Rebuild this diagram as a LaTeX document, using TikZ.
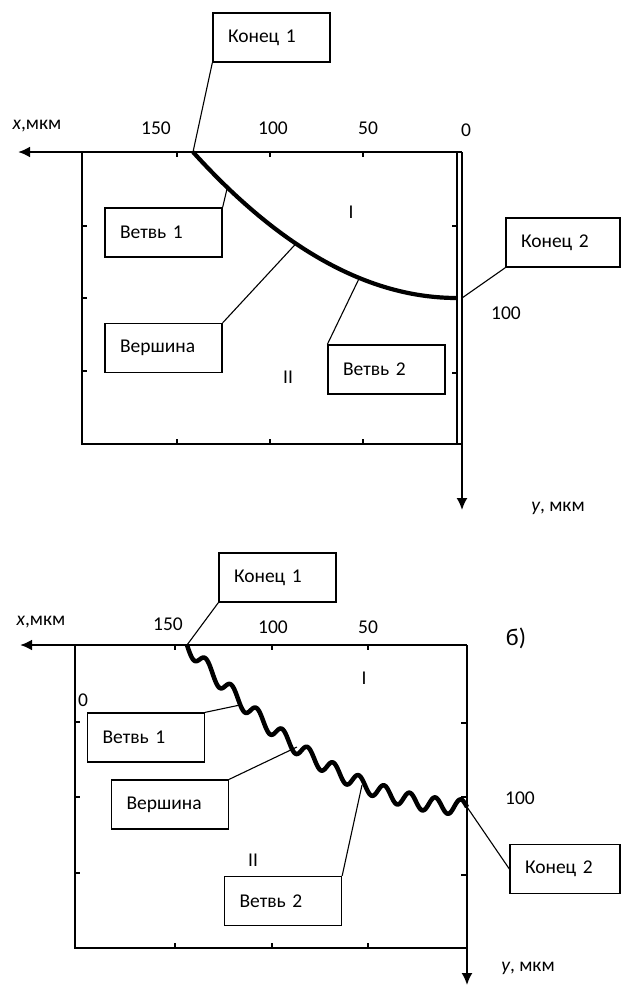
\documentclass[tikz,border=0pt]{standalone}
\usepackage{fontspec}
\setmainfont{Carlito}
\usetikzlibrary{arrows.meta}

\begin{document}
\begin{tikzpicture}[
    x=1pt, y=-1pt,
    font=\fontsize{19.5}{22}\selectfont,
    box/.style={rectangle, draw=black, line width=1.3pt, text width=87pt, align=left, inner xsep=15pt, inner ysep=0pt, minimum height=49pt},
    lead/.style={line width=1.1pt, black},
    frame/.style={line width=1.4pt, black},
    axis/.style={line width=2.8pt, black, -{Latex[length=12pt, width=11pt]}},
    yaxis/.style={line width=1.8pt, black, -{Latex[length=12pt, width=11pt]}},
    tick/.style={line width=1.2pt, black},
    curve/.style={line width=4.2pt, black},
]

    \useasboundingbox (0,0) rectangle (621,988);

    % --- Diagram a (top): smooth front ---
    \coordinate (O1) at (462,152);
    \coordinate (X1) at (18,152);
    \coordinate (Y1) at (462,510);
    \draw[axis]  (O1) -- (X1);
    \draw[yaxis] (O1) -- (Y1);

    % frame and ticks
    \draw[frame] (82,152) -- (82,444) -- (462,444);
    \draw[frame] (457,152) -- (457,444);
    \draw[tick] (177,152) -- ++(0,5) (270,152) -- ++(0,5) (363,152) -- ++(0,5);
    \draw[tick] (177,444) -- ++(0,-5) (270,444) -- ++(0,-5) (363,444) -- ++(0,-5);
    \draw[tick] (82,226) -- ++(5,0) (82,298) -- ++(5,0) (82,371) -- ++(5,0);
    \draw[tick] (457,226) -- ++(-5,0) (457,298) -- ++(-5,0) (457,373) -- ++(-5,0);

    % axis labels
    \node (xla) at (37,126)  {\textit{x},мкм};
    \node (a150) at (156,128) {150};
    \node (a100) at (273,128) {100};
    \node (a50)  at (368,128) {50};
    \node (a0)   at (466,130) {0};
    \node (ay100) at (506,313) {100};
    \node (yla) at (558,508) {\textit{y}, мкм};
    \node (zoneIa)  at (351,212) {I};
    \node (zoneIIa) at (288,377) {II};

    % front line (parabola, vertex at the y axis)
    \coordinate (k1) at (193,152);
    \coordinate (k2) at (457,298);
    \draw[curve] (k1) .. controls (281,249.3) and (369,298) .. (k2)
        coordinate[pos=0.13] (p1)
        coordinate[pos=0.39] (p2)
        coordinate[pos=0.63] (p3);

    % callouts
    \node[box] (kon1a) at (271.5,37.5) {Конец 1};
    \node[box, text width=84pt] (kon2a) at (563,242.5) {Конец 2};
    \node[box] (vet1a) at (163.5,232.5) {Ветвь 1};
    \node[box] (versha) at (163.5,348) {Вершина};
    \node[box] (vet2a) at (386.5,369.5) {Ветвь 2};

    \draw[lead] (kon1a.south west) -- (k1);
    \draw[lead] (kon2a.south west) -- (O1 |- k2);
    \draw[lead] (vet1a.north east) -- (p1);
    \draw[lead] (versha.north east) -- (p2);
    \draw[lead] (vet2a.north west) -- (p3);

    % --- Diagram b (bottom): wavy front ---
    \coordinate (O2) at (467,645);
    \coordinate (X2) at (20,645);
    \coordinate (Y2) at (467,985);
    \draw[axis]  (O2) -- (X2);
    \draw[yaxis] (O2) -- (Y2);

    % frame and ticks
    \draw[frame] (75,645) -- (75,948) -- (467,948);
    \draw[tick] (175,645) -- ++(0,5) (272,645) -- ++(0,5) (368,645) -- ++(0,5);
    \draw[tick] (175,948) -- ++(0,-5) (272,948) -- ++(0,-5) (368,948) -- ++(0,-5);
    \draw[tick] (75,722) -- ++(5,0) (75,797) -- ++(5,0) (75,873) -- ++(5,0);
    \draw[tick] (467,723) -- ++(-6,0) (467,797) -- ++(-6,0) (467,875) -- ++(-6,0);

    % axis labels
    \node (xlb) at (41,622)  {\textit{x},мкм};
    \node (b150) at (168,624) {150};
    \node (b100) at (273,627) {100};
    \node (b50)  at (368,627) {50};
    \node (b0)   at (83,700)  {0};
    \node (by100) at (520,798) {100};
    \node (ylb) at (528,968) {\textit{y}, мкм};
    \node (zoneIb)  at (364,678) {I};
    \node (zoneIIb) at (253,860) {II};
    \node[font=\fontsize{24}{28}\selectfont] (capb) at (516,638) {б)};

    % front line
    \coordinate (w1) at (187,645);
    \coordinate (w2) at (467,807);
    \coordinate (r1) at (240,705);
    \coordinate (r2) at (297,747);
    \coordinate (r3) at (362,785);
    \draw[curve, line width=4.5pt, line join=round] plot[variable=\t, domain=187:467, samples=320, smooth]
        (\t, {807-(0.04545*(467-\t))^2+7.5*sin(14.145*(\t-187))});

    % callouts
    \node[box] (kon1b) at (277.5,577.5) {Конец 1};
    \node[box, text width=80pt] (kon2b) at (565,869) {Конец 2};
    \node[box] (vet1b) at (146,737.5) {Ветвь 1};
    \node[box] (vershb) at (170,804.5) {Вершина};
    \node[box] (vet2b) at (283,901) {Ветвь 2};

    \draw[lead] (kon1b.south west) -- (w1);
    \draw[lead] (kon2b.west) -- (w2);
    \draw[lead] (vet1b.north east) -- (r1);
    \draw[lead] (vershb.north east) -- (r2);
    \draw[lead] (vet2b.north east) -- (r3);

\end{tikzpicture}
\end{document}
